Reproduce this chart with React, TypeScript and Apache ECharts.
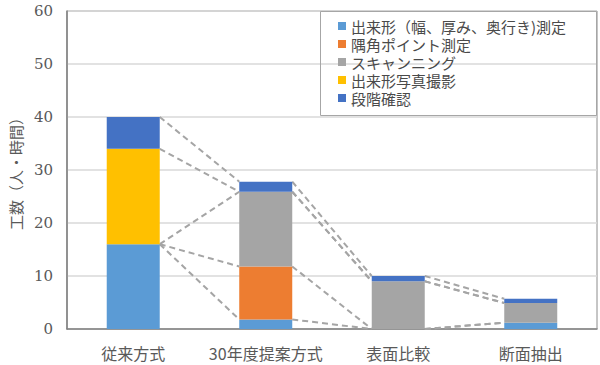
import React, { useEffect, useRef } from "react";
import * as echarts from "echarts";

const categories = ["従来方式", "30年度提案方式", "表面比較", "断面抽出"];
const seriesNames = [
  "出来形（幅、厚み、奥行き)測定",
  "隅角ポイント測定",
  "スキャンニング",
  "出来形写真撮影",
  "段階確認",
];
const dekigata = [16, 1.8, 0, 1.2];
const sumikado = [0, 10, 0, 0];
const scanning = [0, 14.1, 9, 3.7];
const shashin = [18, 0, 0, 0];
const dankai = [6, 1.9, 1, 0.8];
const yTicks = [0, 10, 20, 30, 40, 50, 60];
const colors = ["#5B9BD5", "#ED7D31", "#A5A5A5", "#FFC000", "#4472C4"];

const seriesValues = [dekigata, sumikado, scanning, shashin, dankai];

export default function App() {
  const ref = useRef<HTMLDivElement>(null);
  useEffect(() => {
    if (!ref.current) return;
    const chart = echarts.init(ref.current, null, { renderer: "svg" });

    const cum: number[][] = [];
    seriesValues.forEach((vals, s) => {
      cum.push(vals.map((v, i) => (s === 0 ? 0 : cum[s - 1][i]) + v));
    });
    const lineData: number[][] = [];
    cum.forEach((c) => {
      for (let i = 0; i < categories.length - 1; i++) {
        lineData.push([i, c[i], c[i + 1]]);
      }
    });

    const font = "Noto Sans CJK JP";

    chart.setOption({
      animation: false,
      grid: {
        left: 65,
        top: 11,
        width: 532,
        height: 318,
        show: true,
        borderColor: "#8c8c8c",
        borderWidth: 1,
      },
      legend: {
        data: seriesNames,
        orient: "vertical",
        left: 338,
        top: 17,
        padding: 0,
        itemWidth: 8,
        itemHeight: 8,
        itemGap: 0,
        icon: "rect",
        textStyle: {
          fontFamily: font,
          fontSize: 15,
          lineHeight: 18,
          color: "#4a4a4a",
        },
      },
      graphic: [
        {
          type: "rect",
          shape: { x: 320.5, y: 11.5, width: 276, height: 104 },
          style: { fill: "none", stroke: "#a6a6a6", lineWidth: 1 },
          z: 10,
        },
      ],
      xAxis: {
        type: "category",
        data: categories,
        axisTick: { show: false },
        axisLine: { lineStyle: { color: "#808080", width: 1.5 } },
        axisLabel: {
          interval: 0,
          fontFamily: font,
          fontSize: 16,
          color: "#595959",
          margin: 16,
        },
      },
      yAxis: {
        type: "value",
        min: 0,
        max: yTicks[yTicks.length - 1],
        interval: 10,
        name: "工数（人・時間）",
        nameLocation: "middle",
        nameRotate: 90,
        nameGap: 42,
        nameTextStyle: { fontFamily: font, fontSize: 15, color: "#595959" },
        axisLine: { show: true, lineStyle: { color: "#808080", width: 1.5 } },
        axisTick: { show: false },
        splitLine: { lineStyle: { color: "#d9d9d9", width: 1.5 } },
        axisLabel: {
          fontFamily: "DejaVu Serif, Liberation Serif, serif",
          fontSize: 15,
          color: "#595959",
          margin: 14,
        },
      },
      series: [
        ...seriesNames.map((name, s) => ({
          name,
          type: "bar",
          stack: "total",
          barWidth: "40%",
          data: seriesValues[s],
          itemStyle: { color: colors[s] },
        })),
        {
          type: "custom",
          name: "series-lines",
          data: lineData,
          encode: { x: 0, y: [1, 2] },
          silent: true,
          z: 1,
          renderItem: (params: any, api: any) => {
            const i = api.value(0);
            const a = api.value(1);
            const b = api.value(2);
            const p1 = api.coord([i, a]);
            const p2 = api.coord([i + 1, b]);
            const band = api.size([1, 0])[0];
            const half = band * 0.2;
            return {
              type: "line",
              shape: { x1: p1[0] + half, y1: p1[1], x2: p2[0] - half, y2: p2[1] },
              style: { stroke: "#a5a5a5", lineWidth: 2, lineDash: [6, 4] },
            };
          },
        },
      ],
    });
    return () => chart.dispose();
  }, []);
  return <div ref={ref} style={{ width: 600, height: 365, position: "absolute", left: 0, top: 0 }} />;
}
